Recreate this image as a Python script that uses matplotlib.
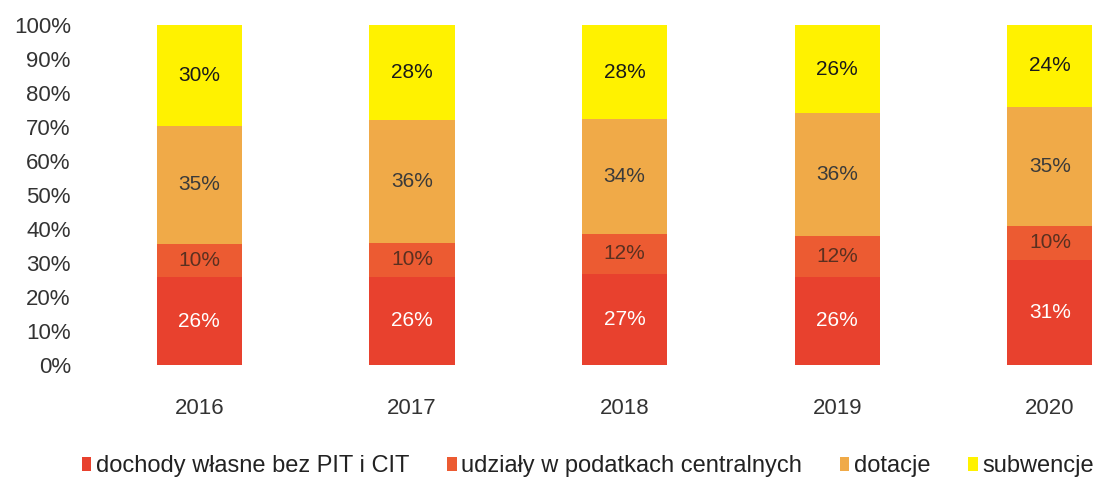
import matplotlib
matplotlib.use("Agg")
import matplotlib.pyplot as plt
import numpy as np
from matplotlib.ticker import FuncFormatter

years = ["2016", "2017", "2018", "2019", "2020"]
series_names = ["dochody własne bez PIT i CIT", "udziały w podatkach centralnych", "dotacje", "subwencje"]
dochody = [26, 26, 27, 26, 31]
udzialy = [10, 10, 12, 12, 10]
dotacje = [35, 36, 34, 36, 35]
subwencje = [30, 28, 28, 26, 24]

colors = ["#E8412E", "#EC5B32", "#F0AA48", "#FFF200"]
text_colors = ["white", "#5a3020", "#3a3a3a", "#1a1a1a"]

plt.rcParams['font.family'] = ['Liberation Sans', 'DejaVu Sans']
fig = plt.figure(figsize=(11.02, 4.79), dpi=100)
ax = fig.add_axes([93/1102, 1 - 365/479, 1 - 93/1102, 340/479])

data = np.array([dochody, udzialy, dotacje, subwencje], dtype=float)
totals = data.sum(axis=0)
norm = data / totals * 100
x = np.arange(len(years))
bottom = np.zeros(len(years))
for i in range(4):
    ax.bar(x, norm[i], 0.4, bottom=bottom, color=colors[i], label=series_names[i])
    for j in range(len(years)):
        ax.text(x[j], bottom[j] + norm[i][j] / 2, f"{int(data[i][j])}%", ha="center", va="center",
                color=text_colors[i], fontsize=15)
    bottom += norm[i]

ax.set_xlim(-0.5, (1102 - 200) / 212.5)
ax.set_ylim(0, 100)
ax.set_yticks(np.arange(0, 101, 10))
ax.yaxis.set_major_formatter(FuncFormatter(lambda v, p: f"{int(v)}%"))
ax.set_xticks(x)
ax.set_xticklabels(years)
ax.tick_params(axis="both", length=0, labelsize=16, colors="#333333")
ax.tick_params(axis="x", pad=24)
ax.tick_params(axis="y", pad=16)
for s in ax.spines.values():
    s.set_visible(False)

handles, labels = ax.get_legend_handles_labels()
leg = fig.legend(handles, labels, loc="center", bbox_to_anchor=(588/1102, 1 - 466/479), ncol=4,
                 frameon=False, handlelength=0.4, handleheight=0.55, handletextpad=0.2,
                 columnspacing=1.6,
                 prop={'family': ['Liberation Sans', 'DejaVu Sans'], 'size': 17})
for t in leg.get_texts():
    t.set_color("#222222")

fig.savefig("out.png", dpi=100)
